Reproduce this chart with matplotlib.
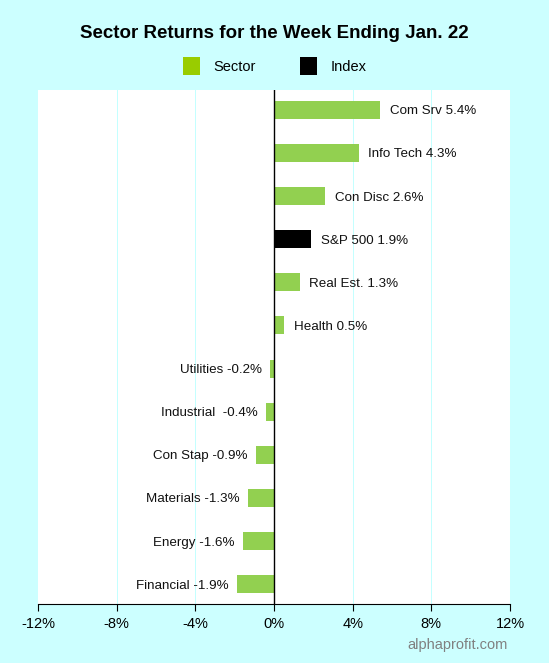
import matplotlib
matplotlib.use("Agg")
import matplotlib.pyplot as plt
from matplotlib.patches import Patch

names = ["Com Srv", "Info Tech", "Con Disc", "S&P 500", "Real Est.", "Health",
         "Utilities", "Industrial ", "Con Stap", "Materials", "Energy", "Financial"]
values = [5.4, 4.3, 2.6, 1.9, 1.3, 0.5, -0.2, -0.4, -0.9, -1.3, -1.6, -1.9]
kinds = ["Sector", "Sector", "Sector", "Index", "Sector", "Sector",
         "Sector", "Sector", "Sector", "Sector", "Sector", "Sector"]
xticks = [-12, -8, -4, 0, 4, 8, 12]
xticklabels = ["-12%", "-8%", "-4%", "0%", "4%", "8%", "12%"]
title = "Sector Returns for the Week Ending Jan. 22"

plt.rcParams['font.family'] = ['Liberation Sans', 'DejaVu Sans']
BG = "#ccffff"
GREEN = "#92d050"
LEG_GREEN = "#99cc00"

fig = plt.figure(figsize=(5.49, 6.63), dpi=100, facecolor=BG)
W, H = 549, 663
ax = fig.add_axes([38 / W, 1 - 604 / H, (510 - 38) / W, (604 - 90) / H])
ax.set_facecolor("white")

n = len(values)
ypos = list(range(n))
colors = [GREEN if k == "Sector" else "black" for k in kinds]
ax.barh(ypos, values, height=0.42, color=colors, zorder=3)
ax.set_ylim(n - 1 + 0.46, -0.46)
ax.set_xlim(-12, 12)

for x in [-8, -4, 4, 8]:
    ax.axvline(x, color="#c4ffff", lw=0.72, zorder=1, antialiased=False)
ax.axvline(0, color="black", lw=1.0, zorder=4)

for y, v, nm in zip(ypos, values, names):
    lab = f"{nm} {v:.1f}%"
    if v >= 0:
        ax.annotate(lab, (v, y), xytext=(7, 0), textcoords="offset points",
                    ha="left", va="center_baseline", fontsize=9.6, color="#111111")
    else:
        ax.annotate(lab, (v, y), xytext=(-6, 0), textcoords="offset points",
                    ha="right", va="center_baseline", fontsize=9.6, color="#111111")

ax.set_yticks([])
ax.set_xticks(xticks)
ax.set_xticklabels(xticklabels, fontsize=10.5)
for s in ["left", "right", "top"]:
    ax.spines[s].set_visible(False)
ax.spines["bottom"].set_color("black")
ax.tick_params(axis="x", length=5, width=0.8, pad=4, colors="black")

fig.text(0.5, 1 - 33 / H, title, ha="center", va="center",
         fontsize=13.5, fontweight="bold")

handles = [Patch(facecolor=LEG_GREEN, label="Sector"), Patch(facecolor="black", label="Index")]
fig.legend(handles=handles, loc="center", bbox_to_anchor=(0.5, 1 - 66 / H), ncol=2,
           frameon=False, fontsize=10.5, handlelength=1.2, handleheight=1.5,
           columnspacing=3.0, handletextpad=0.9)

fig.text(508 / W, 1 - 645 / H, "alphaprofit.com", ha="right", va="center",
         fontsize=10.5, color="#808080")

fig.savefig("out.png", dpi=100, facecolor=BG)
